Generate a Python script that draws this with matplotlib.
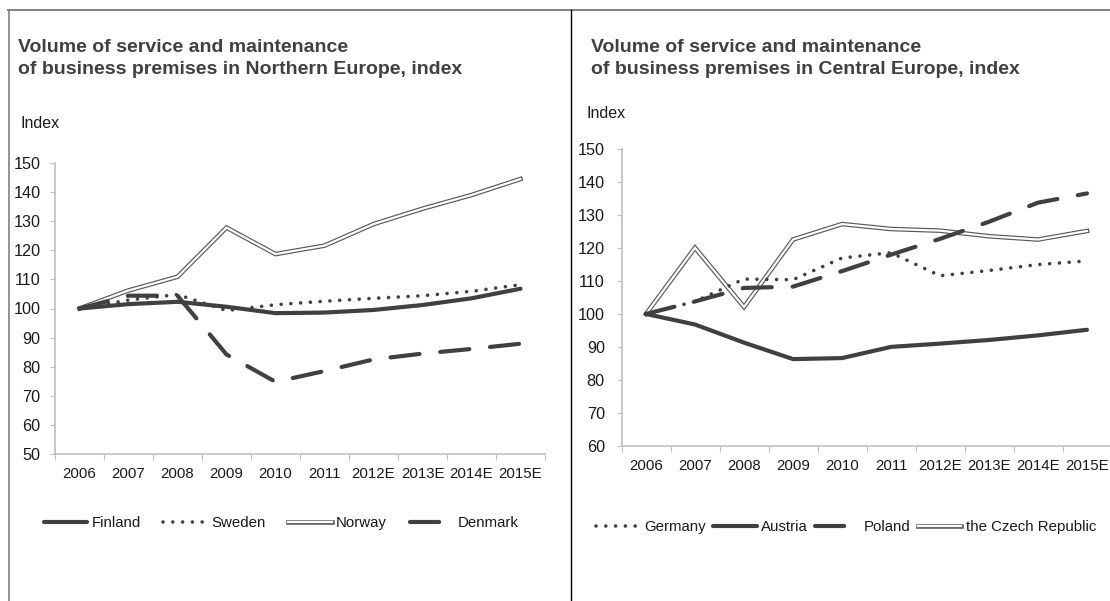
import matplotlib
matplotlib.use("Agg")
import matplotlib.pyplot as plt
from matplotlib.lines import Line2D
from matplotlib.legend_handler import HandlerTuple

plt.rcParams['font.family'] = ['Liberation Sans', 'DejaVu Sans']

years = ['2006', '2007', '2008', '2009', '2010', '2011', '2012E', '2013E', '2014E', '2015E']

# Northern Europe
finland = [100, 101.5, 102.3, 100.6, 98.4, 98.6, 99.5, 101.2, 103.5, 106.8]
sweden = [100, 102.9, 104.8, 99.3, 101.3, 102.5, 103.5, 104.4, 105.9, 108.2]
norway = [100, 106.2, 110.9, 127.8, 118.7, 121.6, 129.0, 134.3, 139.0, 144.5]
denmark = [100, 104.4, 104.4, 84.2, 74.8, 78.5, 82.5, 84.5, 86.1, 87.9]

# Central Europe
germany = [100, 103.8, 110.6, 110.4, 117.0, 118.6, 111.6, 113.2, 115.0, 116.1]
austria = [100, 96.8, 91.3, 86.3, 86.6, 90.0, 91.0, 92.1, 93.5, 95.2]
poland = [100, 103.8, 107.9, 108.3, 113.0, 118.0, 122.8, 128.0, 133.8, 136.6]
czech = [100, 120.1, 102.1, 122.6, 127.3, 125.8, 125.3, 123.6, 122.6, 125.2]

W, H = 1110, 601
DARK = '#404040'
SPINE = '#bfbfbf'
TXT = '#1a1a1a'

fig = plt.figure(figsize=(W / 100, H / 100), dpi=100)
fig.patch.set_facecolor('white')

# panel borders
fig.add_artist(Line2D([8 / W, 1], [1 - 9.5 / H, 1 - 9.5 / H], color='#808080', lw=1.4))
fig.add_artist(Line2D([9 / W, 9 / W], [0, 1 - 9.5 / H], color='#808080', lw=1.2))
fig.add_artist(Line2D([571 / W, 571 / W], [0, 1 - 9.5 / H], color='black', lw=1.0))


def px_axes(x0, x1, ytop, ybot):
    return fig.add_axes([x0 / W, 1 - ybot / H, (x1 - x0) / W, (ybot - ytop) / H])


def style_axes(ax, ymin, ymax, pad):
    n = len(years)
    ax.set_xlim(-0.5, n - 0.5)
    ax.set_ylim(ymin, ymax)
    for s in ['top', 'right']:
        ax.spines[s].set_visible(False)
    for s in ['left', 'bottom']:
        ax.spines[s].set_color(SPINE)
        ax.spines[s].set_linewidth(1.2)
    ax.set_yticks(range(ymin, ymax + 1, 10))
    ax.tick_params(axis='y', direction='out', length=3.5, color=SPINE, labelsize=11.7,
                   labelcolor=TXT, pad=pad)
    ax.set_xticks([i - 0.5 for i in range(n + 1)])
    ax.set_xticklabels([])
    ax.set_xticks(range(n), minor=True)
    ax.set_xticklabels(years, minor=True)
    ax.tick_params(axis='x', which='major', direction='out', length=4, color=SPINE)
    ax.tick_params(axis='x', which='minor', length=0, labelsize=10.8, labelcolor=TXT, pad=9.5)


def solid(ax, y, z=3):
    return ax.plot(range(len(y)), y, color=DARK, lw=3.0, solid_capstyle='round',
                   solid_joinstyle='round', zorder=z)[0]


def dotted(ax, y, z=4):
    return ax.plot(range(len(y)), y, color=DARK, lw=2.6, linestyle=(0, (0.01, 2.7)),
                   dash_capstyle='round', zorder=z)[0]


def dashed(ax, y, z=5):
    return ax.plot(range(len(y)), y, color=DARK, lw=3.0, linestyle=(0, (7, 5)),
                   dash_capstyle='round', zorder=z)[0]


def double(ax, y, z=2):
    a = ax.plot(range(len(y)), y, color='#595959', lw=3.3, solid_joinstyle='miter', zorder=z)[0]
    b = ax.plot(range(len(y)), y, color='white', lw=1.6, solid_joinstyle='miter', zorder=z + 0.1)[0]
    return (a, b)


# ---- left panel ----
ax1 = px_axes(55, 545, 163, 454)
style_axes(ax1, 50, 150, 7)
h_fin = solid(ax1, finland)
h_swe = dotted(ax1, sweden)
h_nor = double(ax1, norway)
h_den = dashed(ax1, denmark)

fig.text(18 / W, 1 - 39 / H,
         'Volume of service and maintenance\nof business premises in Northern Europe, index',
         fontsize=14, fontweight='bold', color=DARK, va='top', ha='left', linespacing=1.38)
fig.text(21 / W, 1 - 123 / H, 'Index', fontsize=11.5, color=TXT, va='center', ha='left')

fig.legend([h_fin, h_swe, h_nor, h_den], ['Finland', 'Sweden', 'Norway', 'Denmark'],
           handler_map={tuple: HandlerTuple(ndivide=1)},
           loc='center', bbox_to_anchor=(281 / W, 1 - 523 / H), ncol=4, frameon=False,
           fontsize=10.8, handlelength=2.9, handletextpad=0.3, columnspacing=1.5,
           labelcolor=TXT)

# ---- right panel ----
ax2 = px_axes(621.5, 1111.5, 149.3, 445.7)
style_axes(ax2, 60, 150, 8.5)
h_ger = dotted(ax2, germany)
h_aut = solid(ax2, austria)
h_pol = dashed(ax2, poland)
h_cze = double(ax2, czech)

fig.text(591 / W, 1 - 39 / H,
         'Volume of service and maintenance\nof business premises in Central Europe, index',
         fontsize=14, fontweight='bold', color=DARK, va='top', ha='left', linespacing=1.38)
fig.text(586 / W, 1 - 113 / H, 'Index', fontsize=11.5, color=TXT, va='center', ha='left')

fig.legend([h_ger, h_aut, h_pol, h_cze], ['Germany', 'Austria', 'Poland', 'the Czech Republic'],
           handler_map={tuple: HandlerTuple(ndivide=1)},
           loc='center', bbox_to_anchor=(846 / W, 1 - 527 / H), ncol=4, frameon=False,
           fontsize=10.8, handlelength=2.9, handletextpad=0.3, columnspacing=0.5,
           labelcolor=TXT)

fig.savefig('out.png', dpi=100, facecolor='white')
